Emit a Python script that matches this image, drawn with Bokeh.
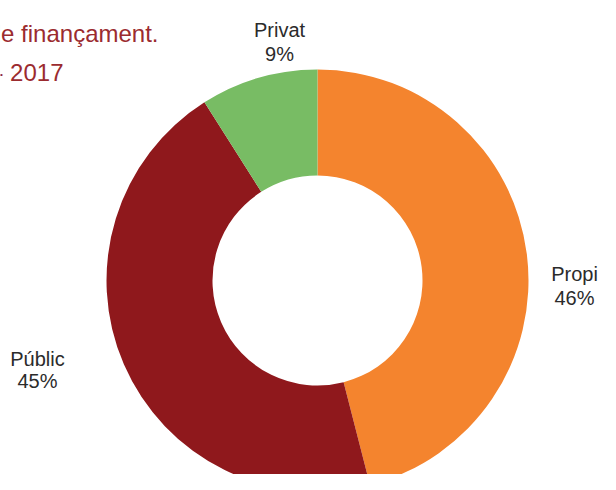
import math
from bokeh.plotting import figure
from bokeh.models import ColumnDataSource
from bokeh.core.properties import value
from bokeh.embed import file_html
from bokeh.resources import INLINE

# ---- data ----
categories = ["Propi", "Públic", "Privat"]
percents = [46, 45, 9]
colors = ["#F4842E", "#8F181C", "#78BC64"]
title_lines = ["Pressupost per fonts de finançament.", "Curs 2016 - 2017"]

W, H = 600, 474
p = figure(width=W, height=H, x_range=(0, W), y_range=(0, H),
           output_backend="svg", toolbar_location=None, min_border=0)
p.axis.visible = False
p.grid.visible = False
p.outline_line_color = None
p.background_fill_color = "white"
p.border_fill_color = "white"

cx, cy = 317, H - 280
r_out, r_in = 211, 105

total = sum(percents)
starts, ends = [], []
acc = 0.0
for v in percents:
    s = math.pi / 2 - 2 * math.pi * acc / total
    e = math.pi / 2 - 2 * math.pi * (acc + v) / total
    starts.append(s)
    ends.append(e)
    acc += v

src = ColumnDataSource(dict(cat=categories, pct=percents, color=colors,
                            start=starts, end=ends,
                            x=[cx] * len(categories), y=[cy] * len(categories)))
p.annular_wedge(x="x", y="y", inner_radius=r_in, outer_radius=r_out,
                start_angle="start", end_angle="end", direction="clock",
                fill_color="color", line_color=None, source=src)

# labels
lab_x = [574, 37, 279]
lab_y1 = [H - 273, H - 358, H - 29]
lab_y2 = [H - 297, H - 380, H - 53]
lsrc = ColumnDataSource(dict(x=lab_x, y1=lab_y1, y2=lab_y2, name=categories,
                             pct=[f"{v}%" for v in percents]))
common = dict(text_font=value("Liberation Sans"), text_font_size="20px",
              text_color="#2b2b2b", text_align="center", text_baseline="alphabetic")
p.text(x="x", y="y1", text="name", source=lsrc, **common)
p.text(x="x", y="y2", text="pct", source=lsrc, **common)

# title (partially off canvas, as in the reference)
tsrc = ColumnDataSource(dict(x=[158, 63], y=[H - 33, H - 72], t=title_lines))
p.text(x="x", y="y", text="t", source=tsrc, text_font=value("Liberation Sans"),
       text_font_size="24px", text_color="#9B2B2F", text_align="right",
       text_baseline="alphabetic")

open("out.html", "w").write(file_html(p, INLINE))
